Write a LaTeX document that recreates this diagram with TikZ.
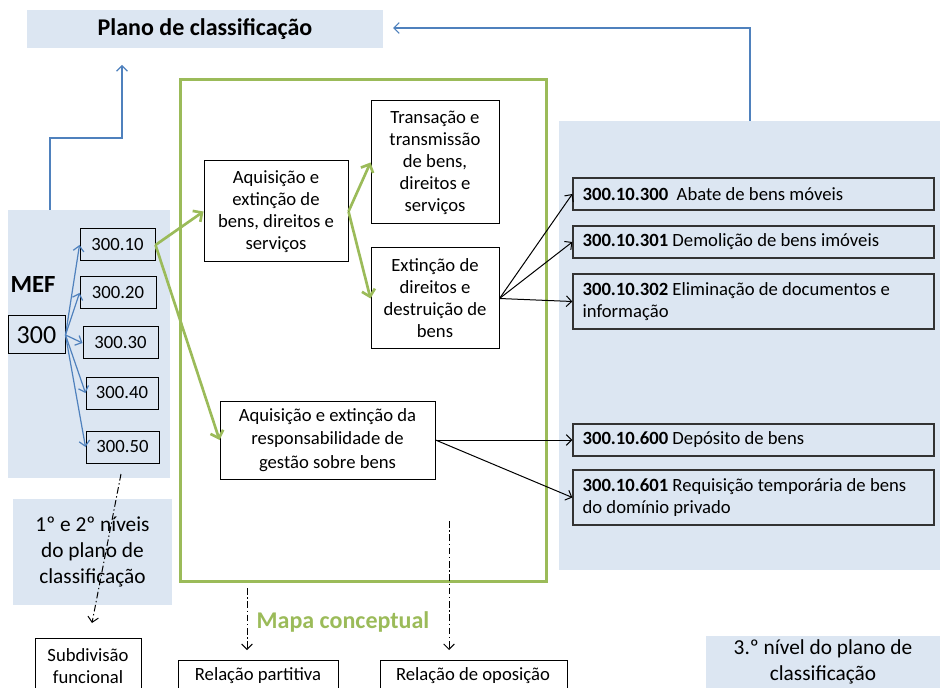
\documentclass[tikz,border=0pt]{standalone}
\usepackage{fontspec}
\setmainfont{Carlito}
\usetikzlibrary{arrows.meta}
\definecolor{lb}{HTML}{DCE6F2}
\definecolor{bl}{HTML}{4F81BD}
\definecolor{gr}{HTML}{9BBB59}
% style, name, x1, y1, x2, y2, text
\newcommand\bxnode[7]{%
  \path ({(#3+#5)/2},{(#4+#6)/2}) node[#1,minimum width={(#5-#3)*0.75pt},minimum height={(#6-#4)*0.75pt}] (#2) {#7};}
\begin{document}
\begin{tikzpicture}[x=0.75pt,y=-0.75pt,font=\fontsize{14}{16.5}\selectfont,
  panel/.style={fill=lb,inner sep=0pt,align=center},
  box/.style={draw=black,line width=0.75pt,inner sep=0pt,align=center},
  cbox/.style={draw=black!80,fill=lb,line width=1pt,inner sep=0pt},
  ctext/.style={anchor=west,align=left,inner sep=0pt},
  barrow/.style={draw=bl,line width=0.9pt,-{Straight Barb[length=4pt,width=8pt]}},
  garrow/.style={draw=gr,line width=2pt,-{Straight Barb[length=5pt,width=10pt]}},
  karrow/.style={draw=black,line width=0.75pt,-{Straight Barb[length=4pt,width=8pt]}},
  ddarrow/.style={draw=black,line width=0.75pt,dash pattern=on 5pt off 2pt on 1pt off 2pt,-{Straight Barb[length=4pt,width=8pt]}}]
\useasboundingbox (0,0) rectangle (940,688);
\clip (0,0) rectangle (940,688);
% panels
\bxnode{panel,font=\fontsize{18}{20}\selectfont\bfseries}{title}{27}{10}{383}{48}{Plano de classificação}
\bxnode{panel}{lp}{8}{210}{170}{478}{}
\bxnode{panel}{rp}{559}{121}{940}{570}{}
\bxnode{panel,font=\fontsize{16}{19.5}\selectfont}{niv12}{13}{499}{172}{605}{1º e 2º níveis\\do plano de\\classificação}
\bxnode{panel}{niv3}{706}{636}{940}{716}{}
\node[align=center,inner sep=0pt,font=\fontsize{16}{20}\selectfont] at (823,662) (niv3t) {3.º nível do plano de\\classificação};
% green frame
\draw[gr,line width=2.25pt] (180,80) rectangle (546,581);
\node[text=gr,font=\fontsize{18}{20}\selectfont\bfseries] (mapa) at (343,622) {Mapa conceptual};
% left
\node[font=\fontsize{18.5}{20}\selectfont\bfseries] (mef) at (33,285) {MEF};
\bxnode{box,font=\fontsize{19.5}{21}\selectfont}{n300}{8}{316}{65}{354}{300}
\bxnode{box}{n10}{80}{229}{155}{261}{300.10}
\bxnode{box}{n20}{80}{277}{156}{309}{300.20}
\bxnode{box}{n30}{83}{327}{158}{359}{300.30}
\bxnode{box}{n40}{86}{377}{158}{409}{300.40}
\bxnode{box}{n50}{86}{431}{159}{463}{300.50}
\foreach \t in {n10,n20,n30,n40,n50} \draw[barrow] (n300.east) -- (\t.west);
% concept boxes
\bxnode{box}{a1}{204}{161}{348}{262}{Aquisição e\\extinção de\\bens, direitos e\\serviços}
\bxnode{box}{t1}{371}{101}{499}{224}{Transação e\\transmissão\\de bens,\\direitos e\\serviços}
\bxnode{box}{t2}{371}{248}{499}{349}{Extinção de\\direitos e\\destruição de\\bens}
\bxnode{box,font=\fontsize{14}{17.5}\selectfont}{a3}{220}{401}{435}{479}{Aquisição e extinção da\\responsabilidade de\\gestão sobre bens}
\bxnode{box}{sub}{35}{638}{141}{716}{}
\node[align=center,inner sep=0pt] (subt) at (88,666) {Subdivisão\\funcional};
\bxnode{box}{rpart}{178}{660}{338}{716}{}
\node (rpartt) at (258,676) {Relação partitiva};
\bxnode{box}{rop}{380}{660}{567}{716}{}
\node (ropt) at (473,676) {Relação de oposição};
% right boxes
\bxnode{cbox}{r1}{573}{178}{934}{210}{}
\node[ctext] at ([xshift=7.5pt]r1.west) {\textbf{300.10.300}\ \ Abate de bens móveis};
\bxnode{cbox}{r2}{573}{226}{934}{258}{}
\node[ctext] at ([xshift=7.5pt]r2.west) {\textbf{300.10.301} Demolição de bens imóveis};
\bxnode{cbox}{r3}{573}{274}{934}{329}{}
\node[ctext] at ([xshift=7.5pt]r3.west) {\textbf{300.10.302} Eliminação de documentos e\\informação};
\bxnode{cbox}{r4}{573}{424}{934}{456}{}
\node[ctext] at ([xshift=7.5pt]r4.west) {\textbf{300.10.600} Depósito de bens};
\bxnode{cbox}{r5}{573}{470}{934}{525}{}
\node[ctext] at ([xshift=7.5pt]r5.west) {\textbf{300.10.601} Requisição temporária de bens\\do domínio privado};
% green arrows
\draw[garrow] (n10.east) -- (a1.west);
\draw[garrow] (n10.east) -- (a3.west);
\draw[garrow] (a1.east) -- (t1.west);
\draw[garrow] (a1.east) -- (t2.west);
% black arrows
\draw[karrow] (t2.east) -- (r1.west);
\draw[karrow] (t2.east) -- (r2.west);
\draw[karrow] (t2.east) -- (r3.west);
\draw[karrow] (a3.east) -- (r4.west);
\draw[karrow] (a3.east) -- (r5.west);
% blue routes
\coordinate (b1) at (50,210);
\coordinate (b2) at (122,65);
\draw[barrow] (b1) |- (b2 |- 0,138) -- (b2);
\coordinate (b3) at (750,121);
\coordinate (b4) at (393,28);
\draw[barrow] (b3) |- (b4);
% dash-dot arrows
\coordinate (d1) at (121,474); \coordinate (d2) at (92,623);
\draw[ddarrow] (d1) -- (d2);
\coordinate (d3) at (247,588); \coordinate (d4) at (247,650);
\draw[ddarrow] (d3) -- (d4);
\coordinate (d5) at (449,521); \coordinate (d6) at (449,650);
\draw[ddarrow] (d5) -- (d6);
\end{tikzpicture}
\end{document}
